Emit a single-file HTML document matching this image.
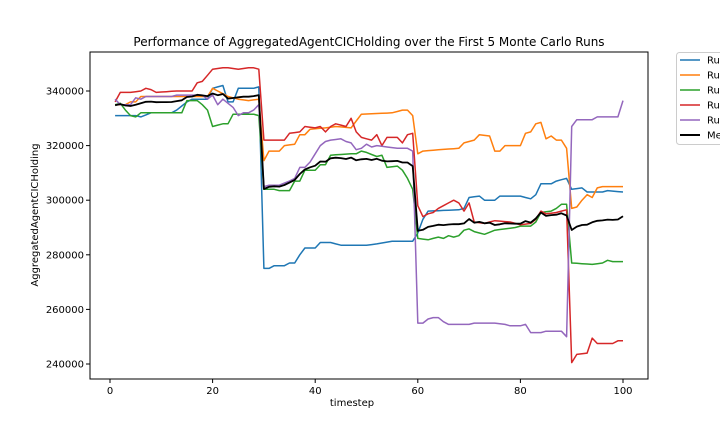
<!DOCTYPE html><html><head><style>body{margin:0;background:#fff;overflow:hidden}svg{font-family:"DejaVu Sans","Liberation Sans",sans-serif}</style></head><body>
<svg id="s" width="720" height="432" xmlns="http://www.w3.org/2000/svg">
<rect width="720" height="432" fill="#fff"/>
<text x="369" y="46" font-size="12" text-anchor="middle">Performance of AggregatedAgentCICHolding over the First 5 Monte Carlo Runs</text>
<text x="352" y="406" font-size="10" text-anchor="middle">timestep</text>
<text transform="translate(38,215) rotate(-90)" font-size="10" text-anchor="middle">AggregatedAgentCICHolding</text>
<g id="plot"></g>
<rect x="90" y="52" width="558" height="327" fill="none" stroke="#000" stroke-width="1"/>
<g id="ticks" font-size="10"></g>
<rect x="676.5" y="52.5" width="60" height="92" rx="3" fill="#fff" stroke="#ccc"/>
<g id="leg" font-size="10"></g>
</svg>
<script>
const K={
b:[[1,331],[5,331],[6,330.5],[8,332],[12,332],[13,333],[15,336],[16,337],[19,337],[20,341],[22,342],[23,336],[24,336],[25,341],[28,341],[29,341.5],[30,275],[31,275],[32,276],[34,276],[35,277],[36,277],[37,280],[38,282.5],[40,282.5],[41,284.5],[43,284.5],[45,283.5],[50,283.5],[52,284],[55,285],[59,285],[60,288],[61,293],[62,296],[68,296.5],[69,297],[70,301],[72,301.5],[73,300],[75,300],[76,301.5],[80,301.5],[82,300.5],[83,302],[84,306],[86,306],[87,307],[89,308],[90,304],[92,304.5],[93,303],[96,303],[97,303.5],[100,303]],
o:[[1,335],[3,335],[4,336],[5,336],[6,338],[19,338],[20,341],[23,338],[25,337],[27,336.5],[29,337],[30,314.5],[31,318],[33,318],[34,320],[36,320.5],[37,324],[38,324],[39,326],[42,326.5],[44,327],[47,326.5],[48,329],[49,331.5],[55,332],[57,333],[58,333],[59,331],[60,317],[61,318],[64,318.5],[68,319],[69,321],[71,322],[72,324],[74,323.5],[75,318],[76,318],[77,320],[80,320],[81,324.5],[82,325],[83,328],[84,328.5],[85,322.5],[86,323.5],[87,322],[88,322],[89,319],[90,297],[91,297.5],[92,300],[93,302],[94,301],[95,304.5],[96,305],[100,305]],
g:[[1,335],[2,335.5],[3,333],[4,331],[5,330.5],[6,332],[14,332],[15,336.5],[17,336.5],[18,335],[19,333],[20,327],[22,328],[23,328],[24,331.5],[28,331.5],[29,331],[30,304],[32,304],[33,303.5],[35,303.5],[36,307],[37,307],[38,311],[40,311],[41,313],[42,313],[43,316.5],[47,317],[48,317],[49,318],[50,317.5],[52,316],[53,316.5],[54,312],[56,312.5],[57,311],[58,308],[59,304],[60,286],[62,285.5],[63,286],[64,286.5],[65,286],[66,287],[67,286.5],[68,287],[69,289],[70,289.5],[71,288.5],[72,288],[73,287.5],[75,289],[77,289.5],[79,290],[80,290.5],[82,290.5],[83,292],[84,295.5],[86,296],[87,297],[88,298.5],[89,298.5],[90,277],[94,276.5],[96,277],[97,278],[98,277.5],[100,277.5]],
r:[[1,336],[2,339.5],[4,339.5],[6,340],[7,341],[8,340.5],[9,339.5],[13,340],[16,340],[17,343],[18,343.5],[20,348],[22,348.5],[23,348.5],[25,348],[27,348.5],[28,348.5],[29,348],[30,322],[34,322],[35,324.5],[37,325],[38,327],[40,326.5],[41,327],[42,325],[43,327],[44,328],[46,327],[47,330],[48,325],[49,323],[51,322],[52,324],[53,320],[54,323],[56,323],[57,321],[58,324],[59,324.5],[60,298],[61,294],[62,295],[63,295.5],[64,297],[65,298],[66,299],[67,300],[68,299],[69,296],[70,299],[71,292],[73,291.5],[75,292.5],[78,292],[80,291],[82,291.5],[83,293],[84,296],[85,295],[87,295.5],[88,296],[89,296.5],[90,240.5],[91,243.5],[93,244],[94,249.5],[95,247.5],[98,247.5],[99,248.5],[100,248.5]],
p:[[1,337],[2,335],[4,335],[5,337.5],[6,337],[7,338],[12,338],[13,338.5],[18,338.5],[19,337],[20,338.5],[21,335],[22,337],[23,335.5],[24,334],[25,331],[26,332],[27,332],[28,333],[29,335],[30,305],[31,305.5],[33,305.5],[35,307],[36,308],[37,312],[38,312],[39,314],[40,317],[41,320],[42,321.5],[43,322],[45,322.5],[46,321.5],[47,321],[48,318.5],[49,319],[50,320.5],[51,319.5],[52,320],[54,319.5],[56,319],[58,319],[59,318],[60,255],[61,255],[62,256.5],[63,257],[64,257],[65,255.5],[66,254.5],[70,254.5],[71,255],[75,255],[77,254.5],[78,254],[80,254],[81,254.5],[82,251.5],[84,251.5],[85,252],[88,252],[89,250],[90,327],[91,329.5],[94,329.5],[95,330.5],[99,330.5],[100,336.5]]};
function expand(k){const a=[];for(let i=0;i<k.length-1;i++){const[t0,v0]=k[i],[t1,v1]=k[i+1];for(let t=t0;t<t1;t++)a[t]=v0+(v1-v0)*(t-t0)/(t1-t0);}a[100]=k[k.length-1][1];return a;}
const X=t=>110+5.13*t,Y=v=>91+(340-v)*2.73;
const S={};for(const k in K)S[k]=expand(K[k]);
S.m=[];for(let t=1;t<=100;t++)S.m[t]=(S.b[t]+S.o[t]+S.g[t]+S.r[t]+S.p[t])/5;
const C={b:"#1f77b4",o:"#ff7f0e",g:"#2ca02c",r:"#d62728",p:"#9467bd",m:"#000"};
let h="";for(const k of ["b","o","g","r","p","m"]){let d="";for(let t=1;t<=100;t++)d+=(t==1?"M":"L")+X(t).toFixed(1)+","+Y(S[k][t]).toFixed(1);h+=`<path d="${d}" fill="none" stroke="${C[k]}" stroke-width="${k=='m'?1.8:1.5}" stroke-linejoin="round"/>`;}
document.getElementById("plot").innerHTML=h;
let tk="";for(let t=0;t<=100;t+=20){const x=X(t);tk+=`<line x1="${x}" y1="379" x2="${x}" y2="383" stroke="#000"/><text x="${x}" y="394" text-anchor="middle">${t}</text>`;}
for(let v=240;v<=340;v+=20){const y=Y(v);tk+=`<line x1="86" y1="${y}" x2="90" y2="${y}" stroke="#000"/><text x="84" y="${y+3.5}" text-anchor="end">${v}000</text>`;}
document.getElementById("ticks").innerHTML=tk;
const L=[["b","Run 1"],["o","Run 2"],["g","Run 3"],["r","Run 4"],["p","Run 5"],["m","Mean"]];let lg="";
L.forEach(([k,n],i)=>{const y=60+i*15;lg+=`<line x1="680" y1="${y}" x2="700" y2="${y}" stroke="${C[k]}" stroke-width="${k=='m'?2:1.5}"/><text x="707" y="${y+3.5}">${n}</text>`;});
document.getElementById("leg").innerHTML=lg;
</script></body></html>
